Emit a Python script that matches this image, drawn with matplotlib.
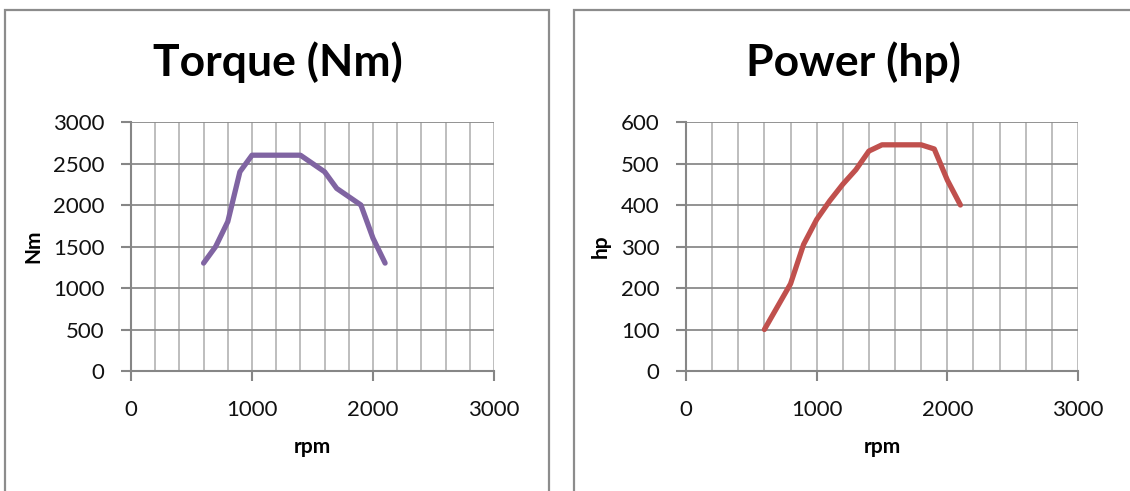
import matplotlib.pyplot as plt
from matplotlib.patches import Rectangle
from matplotlib.ticker import MultipleLocator
from matplotlib.transforms import offset_copy

plt.rcParams['font.family'] = ['Lato', 'DejaVu Sans']

rpm = [600, 700, 800, 900, 1000, 1100, 1200, 1300, 1400, 1500,
       1600, 1700, 1800, 1900, 2000, 2100]
torque_nm = [1300, 1500, 1800, 2400, 2600, 2600, 2600, 2600, 2600, 2500,
             2400, 2200, 2100, 2000, 1600, 1300]
power_hp = [100, 155, 210, 305, 365, 410, 450, 485, 530, 545,
            545, 545, 545, 535, 460, 400]

fig = plt.figure(figsize=(11.3, 4.91), dpi=100)
W, H = 1130, 491

# chart frames (excel style)
for x0, x1 in [(5, 549), (574, 1135)]:
    fig.add_artist(Rectangle((x0 / W, 0 - 0.05), (x1 - x0) / W, (1 - 10 / H) + 0.05,
                             transform=fig.transFigure, fill=False,
                             edgecolor='#8c8c8c', linewidth=1.6))


def panel(left, right, x, y, ymax, ystep, color, title, ylabel, title_x, ylab_off):
    ax = fig.add_axes([left / W, 1 - 371 / H, (right - left) / W, (371 - 122) / H])
    ax.plot(x, y, color=color, linewidth=3.8, solid_capstyle='round',
            solid_joinstyle='round', zorder=3)
    ax.set_xlim(0, 3000)
    ax.set_ylim(0, ymax)
    ax.xaxis.set_major_locator(MultipleLocator(1000))
    ax.xaxis.set_minor_locator(MultipleLocator(200))
    ax.yaxis.set_major_locator(MultipleLocator(ystep))
    ax.grid(which='major', axis='y', color='#8a8a8a', linewidth=1.3)
    ax.grid(which='both', axis='x', color='#b9b9b9', linewidth=1.3)
    for s in ['top', 'right']:
        ax.spines[s].set_visible(False)
    for s in ['left', 'bottom']:
        ax.spines[s].set_color('#868686')
        ax.spines[s].set_linewidth(1.5)
    ax.tick_params(which='major', length=7, width=1.5, color='#868686',
                   labelsize=16, labelcolor='#111111')
    ax.tick_params(axis='y', which='major', pad=12)
    ax.tick_params(axis='x', which='major', pad=14)
    ax.tick_params(which='minor', length=0)
    ax.set_axisbelow(True)
    ax.set_xlabel('rpm', fontsize=15, fontweight='bold', labelpad=12)
    # y label placed by hand, a few pixels left of the tick labels
    ax.text(0, 0.5, ylabel,
            transform=offset_copy(ax.transAxes, fig=fig, x=ylab_off, units='dots'),
            rotation=90, fontsize=15, fontweight='bold', ha='right', va='center')
    fig.text(title_x / W, 1 - 62 / H, title, fontsize=32, fontweight='bold',
             ha='center', va='center')
    return ax


panel(131, 494, rpm, torque_nm, 3000, 500, '#8064a2', 'Torque (Nm)', 'Nm', 278, -88)
panel(686, 1078, rpm, power_hp, 600, 100, '#c0504d', 'Power (hp)', 'hp', 853, -75)

fig.savefig('out.png', dpi=100)
